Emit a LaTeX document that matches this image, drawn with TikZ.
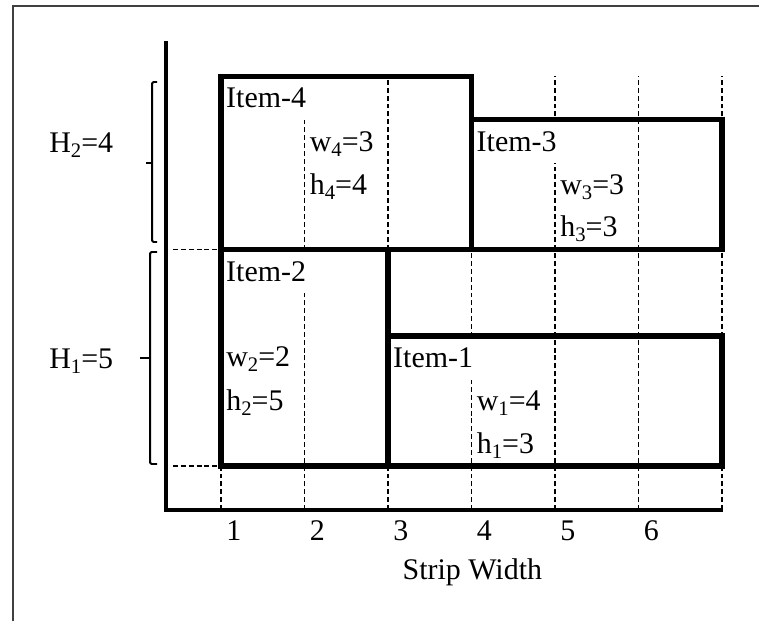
\documentclass[tikz,border=0pt]{standalone}
\usepackage{fontspec}
\setmainfont{Liberation Serif}
\usetikzlibrary{positioning}
\newcommand{\lowsub}[1]{\raisebox{-3.6pt}{\fontsize{14.7}{15}\selectfont #1}}

\begin{document}
\begin{tikzpicture}[x=2.0875cm, y=1.0825cm,
		every node/.style={font=\fontsize{21.3}{25}\selectfont},
		item/.style={
			draw=black,
			line width=3.9pt
		},
		itemlabel/.style={
			anchor=north west,
			fill=white,
			inner xsep=3.5pt,
			inner ysep=0pt,
			text width=2cm,
			minimum height=1.0825cm,
			align=left
		},
		info/.style={anchor=base west, inner sep=0pt},
		gridline/.style={dash pattern=on 3.5pt off 2.1pt, line width=0.8pt},
		axis/.style={line width=2.3pt},
		bracket/.style={line width=1.4pt, rounded corners=1pt}]

		\useasboundingbox (-2.647,-3.580) rectangle (6.443,10.762);
		\draw [black!75, line width=1.2pt] (-2.491,-3.580) -- (-2.491,10.624) -- (6.443,10.624);

		% dashed grid
		\foreach \c in {0,...,6}
			\draw [gridline] (\c,-1.016) -- (\c,9);
		\draw [gridline] (-0.575,5) -- (0,5);
		\draw [gridline] (-0.575,0) -- (0,0);

		% item names
		\node [itemlabel] (lab4) at (0,9) {Item-4};
		\node [itemlabel] (lab3) at (3,8) {Item-3};
		\node [itemlabel] (lab2) at (0,5) {Item-2};
		\node [itemlabel] (lab1) at (2,3) {Item-1};

		% items
		\draw [item] (2,0) rectangle (6,3);
		\draw [item] (0,0) rectangle (2,5);
		\draw [item] (3,5) rectangle (6,8);
		\draw [item] (0,5) rectangle (3,9);

		\node [info] (w4) at (1.06,7.26) {w\lowsub{4}=3};
		\node [info] (h4) at (1.06,6.28) {h\lowsub{4}=4};
		\node [info] (w3) at (4.06,6.26) {w\lowsub{3}=3};
		\node [info] (h3) at (4.06,5.30) {h\lowsub{3}=3};
		\node [info] (w2) at (0.06,2.29) {w\lowsub{2}=2};
		\node [info] (h2) at (0.06,1.29) {h\lowsub{2}=5};
		\node [info] (w1) at (3.06,1.29) {w\lowsub{1}=4};
		\node [info] (h1) at (3.06,0.30) {h\lowsub{1}=3};

		% axes
		\draw [axis] (-0.659,9.815) |- (6.01,-1.016);
		\foreach \k in {1,...,6}
			\node [anchor=base, inner sep=0pt] (tick\k) at (\k-1+0.155,-1.73) {\k};
		\node [anchor=base, inner sep=0pt] (xlabel) at (3.01,-2.63) {Strip Width};

		% levels
		\node [info] (H2) at (-2.06,7.25) {H\lowsub{2}=4};
		\node [info] (H1) at (-2.06,2.26) {H\lowsub{1}=5};
		\draw [bracket] (-0.766,8.868) -- (-0.826,8.868) -- (-0.826,5.173) -- (-0.766,5.173);
		\draw [bracket] (-0.826,6.998) -- (-0.898,6.998);
		\draw [bracket] (-0.766,4.942) -- (-0.850,4.942) -- (-0.850,0.046) -- (-0.766,0.046);
		\draw [bracket] (-0.850,2.494) -- (-0.970,2.494);
	\end{tikzpicture}
\end{document}
